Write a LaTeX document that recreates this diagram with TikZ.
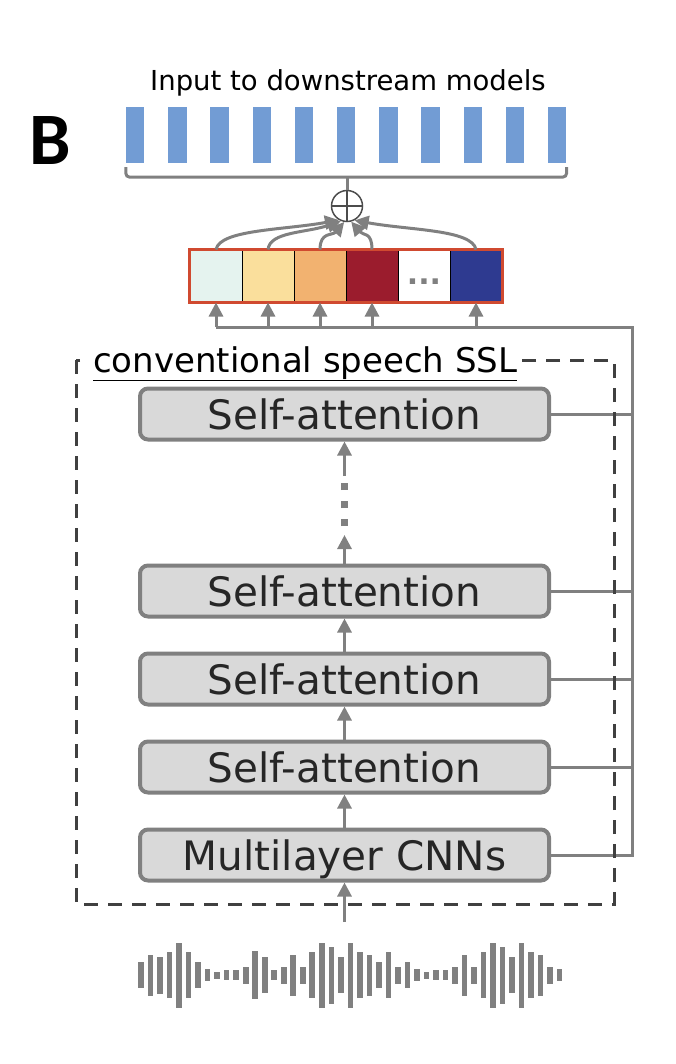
\documentclass[tikz,border=0pt]{standalone}
\usepackage{fontspec}
\setmainfont{DejaVu Sans}
\newfontfamily\panelfont{Carlito}
\usetikzlibrary{arrows.meta}
\definecolor{featblue}{RGB}{114,156,212}
\definecolor{wgray}{RGB}{128,128,128}
\definecolor{boxfill}{RGB}{217,217,217}
\definecolor{dashgray}{RGB}{64,64,64}
\definecolor{wred}{RGB}{208,74,48}
\definecolor{wa}{RGB}{229,243,239}
\definecolor{wb}{RGB}{250,223,156}
\definecolor{wc}{RGB}{242,178,112}
\definecolor{wd}{RGB}{155,28,45}
\definecolor{we}{RGB}{255,255,255}
\definecolor{wf}{RGB}{46,58,144}

\begin{document}
\begin{tikzpicture}
	 [x=1pt,y=-1pt,
	  layer/.style={draw=wgray,fill=boxfill,line width=4pt,rounded corners=8pt,minimum width=409pt,minimum height=51pt,text height=30pt,text depth=0pt,font=\fontsize{40.5}{40.5}\selectfont,text=black!85},
	  feat/.style={fill=featblue,minimum width=18.5pt,minimum height=56pt,inner sep=0pt},
	  cell/.style={draw=black,line width=1pt,minimum width=52pt,minimum height=52pt,inner sep=0pt},
	  conn/.style={draw=wgray,line width=3pt},
	  arr/.style={conn,-{Triangle[length=14pt,width=14pt]}}]

  \useasboundingbox (0,0) rectangle (676,1064);

  \node[font=\panelfont\bfseries\fontsize{74}{74}\selectfont] (panel) at (50,141) {B};
  \node[font=\fontsize{27.5}{27.5}\selectfont,anchor=base] (title) at (348,91) {Input to downstream models};

  \foreach \i in {0,...,10}
    \node[feat] (f\i) at ({135.2+42.2*\i},135) {};
  \draw[conn,rounded corners=4pt] ([yshift=-4pt]f0.south west) -- ++(0,10) -| ([yshift=-4pt]f10.south east);
  \coordinate (brace) at (347,177);

  \node[draw=black!70,circle,line width=1.5pt,minimum size=31pt,inner sep=0pt] (sum) at (347,206) {};
  \draw[black!70,line width=1.5pt] (sum.north) -- (sum.south) (sum.west) -- (sum.east);
  \draw[conn] (brace) -- (sum.north);

  % layer weights
  \foreach \c [count=\i] in {wa,wb,wc,wd,we,wf}
    \node[cell,fill=\c] (w\i) at ({190+52*\i-26},276) {};
  \draw[wred,line width=3pt] (w1.north west) rectangle (w6.south east);
  \node[text=wgray,font=\bfseries\fontsize{30}{30}\selectfont,anchor=base] (dots) at ([yshift=-8pt]w5.center) {...};

  \draw[arr] (w1.north) .. controls +(4,-20) and +(-55,10) .. (sum.-120);
  \draw[arr] (w2.north) .. controls +(2,-18) and +(-35,12) .. (sum.-112);
  \draw[arr] (w3.north) .. controls +(0,-18) and +(-12,14) .. (sum.-100);
  \draw[arr] (w4.north) .. controls +(0,-18) and +(12,14) .. (sum.-75);
  \draw[arr] (w6.north) .. controls +(-4,-20) and +(55,10) .. (sum.-62);

  % encoder
  \node[layer] (sa1) at (344.5,414) {Self-attention};
  \node[layer] (sa2) at (344.5,591) {Self-attention};
  \node[layer] (sa3) at (344.5,679) {Self-attention};
  \node[layer] (sa4) at (344.5,767) {Self-attention};
  \node[layer] (cnn) at (344.5,855) {Multilayer CNNs};

  \foreach \from/\to in {cnn/sa4,sa4/sa3,sa3/sa2}
    \draw[arr] (\from) -- (\to);
  \coordinate (gapA) at (344.5,535);
  \coordinate (dotA) at (344.5,526);
  \coordinate (dotB) at (344.5,481);
  \coordinate (gapB) at (344.5,476);
  \draw[arr] (sa2) -- (gapA);
  \draw[wgray,line width=7pt,dash pattern=on 7pt off 11pt] (dotA) -- (dotB);
  \draw[arr] (gapB) -- (sa1);

  \coordinate (bus) at (632,327);
  \foreach \i in {1,2,3,4,6}
    \draw[arr] (w\i.south |- bus) -- (w\i.south);
  \draw[conn] (w1.south |- bus) -- (bus) -- (bus |- cnn.east) -- (cnn.east);
  \foreach \n in {sa1,sa2,sa3,sa4}
    \draw[conn] (\n.east) -- (\n.east -| bus);

  \draw[dashgray,line width=3pt,dash pattern=on 14pt off 10pt] (76,360) rectangle (614,904);
  \node[fill=white,inner sep=4pt,anchor=base west,font=\fontsize{34}{34}\selectfont] (ssl) at (89,372) {\underline{conventional speech SSL}};

  % waveform
  \coordinate (wav) at (344.5,922);
  \draw[arr] (wav) -- (cnn);
  \foreach \h [count=\i from 0] in {26,41,37,46,65,46,26,12,7,10,10,17,48,36,10,17,41,17,46,65,57,36,65,46,41,26,46,17,26,12,7,10,10,17,41,17,46,65,57,36,65,46,41,17,12}
    \fill[wgray] ({138.3+9.51*\i},{975-\h/2}) rectangle ++(5.6,\h);

\end{tikzpicture}
\end{document}
